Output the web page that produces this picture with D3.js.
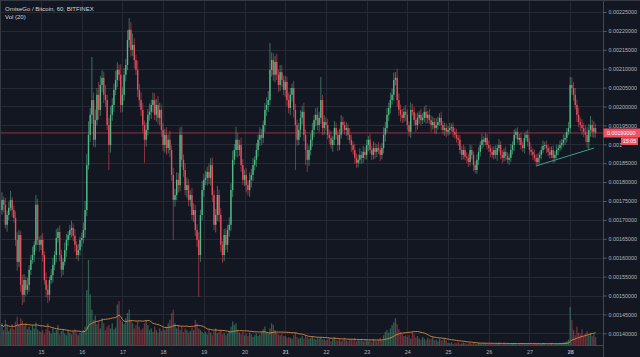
<!DOCTYPE html>
<html><head><meta charset="utf-8">
<script src="https://cdn.jsdelivr.net/npm/d3@7"></script>
<style>html,body{margin:0;padding:0;background:#131722;overflow:hidden}svg{display:block}</style>
</head><body><svg id="c" width="640" height="357"></svg>
<script>
const title = "OmiseGo / Bitcoin, 60, BITFINEX";
const volTitle = "Vol (20)";
const startTime = "2018-01-14T00:00:00Z";
const firstOpen = 1735; // price units: 1e-6 BTC
const closes = [
1726,1753,1740,1687,1713,1732,1753,1726,1705,1647,1589,1660,1528,1502,1541,1515,1528,1568,1594,1607,1634,1740,1647,1634,
1647,1607,1541,1515,1502,1541,1554,1581,1607,1652,1668,1607,1568,1589,1620,1647,1660,1673,1679,1658,1634,1607,1620,1647,
1652,1673,1726,1845,1925,1978,2017,1912,1964,2031,1991,2057,2076,2031,2017,1951,1898,1978,2004,2044,2070,2097,2084,2004,
2031,2084,2110,2176,2203,2150,2163,2123,2097,2044,2017,1991,1951,1912,1938,1978,1986,2004,2017,1978,2004,1970,1991,1938,
1898,1925,1890,1912,1885,1819,1753,1766,1806,1792,1925,1859,1832,1779,1792,1753,1766,1713,1726,1673,1647,1607,1713,1779,
1806,1811,1827,1811,1845,1766,1687,1713,1766,1713,1634,1607,1660,1634,1673,1687,1779,1859,1885,1912,1885,1898,1845,1806,
1819,1792,1779,1806,1819,1845,1859,1885,1912,1925,1917,1951,1991,2004,2017,2097,2123,2084,2118,2084,2057,2091,2070,2044,
2065,2017,1996,2031,2049,1991,1951,1912,1938,1970,1986,1925,1885,1859,1885,1912,1938,1964,1978,1951,1970,2017,1943,1959,
1951,1925,1917,1898,1912,1943,1925,1898,1925,1959,1951,1938,1943,1925,1912,1898,1885,1864,1851,1859,1872,1864,1880,1872,
1898,1912,1885,1872,1890,1880,1890,1885,1872,1890,1925,1943,1978,1996,2017,2031,2070,2076,2017,1991,1978,1970,1986,1978,
1951,1933,1991,1986,1964,1951,1970,1978,1964,1970,1986,1970,1978,1964,1951,1959,1943,1951,1959,1970,1951,1938,1943,1933,
1938,1943,1946,1933,1925,1917,1912,1885,1872,1885,1867,1864,1853,1885,1872,1845,1832,1859,1880,1898,1912,1906,1917,1898,
1890,1880,1872,1885,1872,1890,1898,1872,1864,1880,1869,1859,1864,1885,1898,1925,1933,1912,1917,1898,1890,1917,1925,1906,
1885,1880,1872,1864,1853,1864,1872,1885,1896,1898,1890,1880,1872,1885,1864,1872,1885,1890,1898,1904,1912,1917,1933,1943,
2057,2049,2031,2004,1978,1959,1951,1943,1933,1925,1906,1938,1951,1933,1943,1930];
const wickHi = [
14,20,9,18,11,16,24,8,12,18,20,14,10,26,16,9,19,12,14,22,10,26,16,9,
12,18,10,20,14,9,16,19,10,24,12,18,14,9,20,16,10,14,19,12,18,10,16,9,
14,20,24,30,36,18,114,20,28,18,34,24,20,16,26,14,19,22,18,16,24,20,14,28,
20,18,16,26,31,20,30,18,14,24,16,20,18,12,19,16,22,14,20,18,16,24,19,14,
18,16,20,14,24,12,19,16,20,18,20,22,14,18,20,16,12,19,18,14,16,20,14,24,
16,19,14,22,18,20,12,16,24,14,18,10,16,19,14,20,18,24,16,34,18,14,20,16,
14,18,12,20,16,19,10,18,14,20,16,12,18,20,24,71,20,18,16,22,14,19,18,12,
16,14,20,18,12,19,16,14,18,20,16,24,14,18,12,16,19,14,18,20,16,61,14,18,
12,16,14,18,10,19,14,12,16,18,14,10,16,12,18,14,10,16,12,14,18,10,16,12,
14,10,16,12,18,14,10,16,12,14,20,16,18,14,19,16,20,15,24,18,14,16,12,18,
14,10,20,16,12,18,14,10,16,12,14,18,10,16,12,14,10,18,14,12,16,10,14,12,
10,14,9,12,10,16,9,12,10,14,9,12,10,14,12,9,10,14,12,10,16,9,12,10,
12,9,14,10,12,9,16,10,12,9,14,10,12,16,10,14,9,12,10,14,9,12,10,14,
10,12,9,14,10,12,9,10,14,9,12,10,14,9,12,10,14,9,12,10,14,12,10,16,
21,20,16,18,14,19,12,16,14,18,20,16,24,14,18,12];
const wickLo = [
16,12,20,10,18,14,9,19,12,16,24,14,18,27,20,16,12,18,14,10,19,16,14,18,
14,18,12,20,22,16,10,19,14,18,12,16,20,14,10,18,16,12,19,14,18,10,16,14,
18,14,20,16,12,19,24,18,20,14,26,16,19,22,18,14,66,20,16,18,14,19,16,20,
19,16,18,14,20,18,16,22,14,19,18,16,20,61,18,14,16,19,20,14,18,16,20,18,
16,20,18,14,19,16,106,18,14,20,16,19,18,14,20,16,18,14,19,16,20,111,18,14,
18,14,20,16,19,18,14,20,16,18,19,21,16,14,20,18,16,19,14,18,20,16,18,14,
16,19,14,18,20,16,14,19,18,16,20,14,18,16,19,14,18,16,20,14,19,16,18,14,
18,16,14,19,18,20,119,16,14,19,18,16,40,32,16,14,18,19,16,14,18,16,19,18,
14,12,16,10,18,14,12,16,14,10,18,12,16,14,10,18,12,16,14,12,10,16,14,12,
12,16,10,14,12,18,14,10,16,12,14,18,12,16,14,12,16,14,18,16,18,14,12,16,
14,12,16,10,14,18,12,16,14,10,12,16,14,10,18,12,14,16,12,10,14,12,16,14,
10,12,9,14,10,12,16,10,14,12,9,14,13,10,12,16,9,10,14,12,10,14,9,12,
10,14,9,12,10,16,9,12,14,10,12,9,14,10,12,16,10,9,14,12,10,14,9,12,
12,10,14,9,12,10,14,12,9,10,14,12,10,9,14,12,10,14,9,12,10,14,12,9,
14,18,16,12,19,14,16,18,14,20,16,21,18,14,16,12];
const volumes = [
220,260,180,300,230,170,200,250,190,280,340,240,320,290,230,260,190,220,180,240,200,270,190,170,
160,180,130,190,260,170,140,200,150,180,240,130,170,190,140,120,180,150,130,170,190,140,120,150,
150,180,220,650,1000,600,420,300,350,250,280,200,320,260,180,220,240,200,260,190,210,480,520,300,
280,250,320,380,420,300,260,200,240,280,220,180,200,260,300,240,180,200,160,220,180,150,200,170,
200,180,220,260,300,380,420,260,200,240,180,220,160,200,180,150,170,210,180,300,260,200,180,160,
140,160,130,180,150,120,170,200,140,160,180,130,150,120,140,170,220,280,240,260,180,150,130,160,
120,140,110,150,130,100,120,140,110,130,160,190,220,150,140,200,260,240,180,150,130,120,140,110,
110,90,100,90,80,120,150,100,80,90,110,80,120,100,80,90,110,80,70,90,80,100,70,80,
60,70,90,50,80,100,70,60,80,50,70,90,60,50,70,80,60,90,50,70,60,80,50,70,
60,50,70,40,80,60,50,70,90,60,120,160,180,150,200,240,270,320,250,190,160,130,110,120,
100,120,80,160,130,90,110,80,70,100,80,60,90,70,80,100,60,70,50,80,60,70,80,60,
30,25,40,20,30,25,45,20,25,35,30,20,25,30,20,35,25,20,30,25,20,30,25,20,
25,20,30,15,25,20,35,25,15,30,20,25,15,20,25,30,20,15,25,20,30,15,20,25,
20,25,15,30,20,25,15,20,30,25,15,20,25,30,20,15,25,20,30,25,35,40,50,70,
450,300,180,120,220,150,130,190,110,140,170,120,150,110,130,100];
const priceTicks = [0.0014,0.00145,0.0015,0.00155,0.0016,0.00165,0.0017,0.00175,0.0018,0.00185,0.0019,0.00195,0.002,0.00205,0.0021,0.00215,0.0022,0.00225];
const dayLabels = ["15","16","17","18","19","20","21","22","23","24","25","26","27","28"];
const boldDays = ["21","28"];
const lastPrice = 0.00193;
const countdown = "15:05";
const trendLine = [{t:"2018-01-27T04:00:00Z", p:0.001843},{t:"2018-01-28T14:00:00Z", p:0.001890}];
const maLength = 20;

const UP = "#53b987", DOWN = "#eb4d5c";
const W = 640, H = 357, PR = 603.5, PB = 345.5;
const FONT = "Liberation Sans, Arial, sans-serif";
const svg = d3.select("#c");
svg.append("rect").attr("width", W).attr("height", H).attr("fill", "#131722");

const t0 = new Date(startTime);
const HOUR = 3600e3;
const data = closes.map((c, i) => {
  const o = i === 0 ? firstOpen : closes[i - 1];
  return {t: new Date(+t0 + i * HOUR), o: o / 1e6, c: c / 1e6,
    h: (Math.max(o, c) + wickHi[i]) / 1e6, l: (Math.min(o, c) - wickLo[i]) / 1e6, v: volumes[i]};
});
const x = d3.scaleUtc().domain([t0, data[data.length - 1].t]).range([0.3, 595.6]);
const y = d3.scaleLinear().domain([0.0014, 0.00225]).range([333.3, 12]);
const vy = d3.scaleLinear().domain([0, d3.max(volumes)]).range([PB, 260]);

// grid
const grid = svg.append("g");
grid.selectAll("line.h").data(priceTicks).join("line")
  .attr("x1", 0).attr("x2", PR).attr("y1", d => Math.round(y(d)) + 0.5).attr("y2", d => Math.round(y(d)) + 0.5)
  .attr("stroke", "#262a35").attr("stroke-width", 1);
const dayDates = dayLabels.map(d => new Date(Date.UTC(2018, 0, +d)));
grid.selectAll("line.v").data(dayDates).join("line")
  .attr("x1", d => Math.round(x(d)) + 0.5).attr("x2", d => Math.round(x(d)) + 0.5).attr("y1", 0).attr("y2", PB)
  .attr("stroke", "#262a35").attr("stroke-width", 1);

const plot = svg.append("g");
plot.append("clipPath").attr("id", "clip").append("rect").attr("x", 0).attr("y", 0).attr("width", PR).attr("height", PB);
const pg = plot.append("g").attr("clip-path", "url(#clip)");

// volume
const bw = 1.3;
pg.append("g").selectAll("rect").data(data).join("rect")
  .attr("x", d => x(d.t) - bw / 2).attr("width", bw)
  .attr("y", d => vy(d.v)).attr("height", d => PB - vy(d.v))
  .attr("fill", d => d.c >= d.o ? UP : DOWN).attr("opacity", 0.45);
// volume MA
const ma = data.map((d, i) => {
  const s = volumes.slice(Math.max(0, i - maLength + 1), i + 1);
  return {t: d.t, v: d3.mean(s)};
});
pg.append("path").datum(ma)
  .attr("d", d3.line().x(d => x(d.t)).y(d => vy(d.v)).curve(d3.curveLinear))
  .attr("fill", "none").attr("stroke", "#e08a3c").attr("stroke-width", 1).attr("opacity", 0.9);

// last price line
pg.append("line").attr("x1", 0).attr("x2", PR).attr("y1", y(lastPrice)).attr("y2", y(lastPrice))
  .attr("stroke", "#a8384a").attr("stroke-width", 1).attr("opacity", 0.85);

// candles
const cg = pg.append("g");
cg.selectAll("line").data(data).join("line")
  .attr("x1", d => x(d.t)).attr("x2", d => x(d.t)).attr("y1", d => y(d.h)).attr("y2", d => y(d.l))
  .attr("stroke", d => d.c >= d.o ? UP : DOWN).attr("stroke-width", 0.8).attr("opacity", 0.7);
cg.selectAll("rect").data(data).join("rect")
  .attr("x", d => x(d.t) - 0.7).attr("width", 1.4)
  .attr("y", d => y(Math.max(d.o, d.c))).attr("height", d => Math.max(0.8, Math.abs(y(d.o) - y(d.c))))
  .attr("fill", d => d.c >= d.o ? UP : DOWN);

// trend line
pg.append("line")
  .attr("x1", x(new Date(trendLine[0].t))).attr("y1", y(trendLine[0].p))
  .attr("x2", x(new Date(trendLine[1].t))).attr("y2", y(trendLine[1].p))
  .attr("stroke", "#3f9e8a").attr("stroke-width", 1);

// borders
svg.append("line").attr("x1", PR).attr("x2", PR).attr("y1", 0).attr("y2", H).attr("stroke", "#434651");
svg.append("line").attr("x1", 0).attr("x2", PR).attr("y1", PB).attr("y2", PB).attr("stroke", "#434651");
svg.append("line").attr("x1", 0).attr("x2", W).attr("y1", 0.5).attr("y2", 0.5).attr("stroke", "#363a45");
svg.append("line").attr("x1", 0.5).attr("x2", 0.5).attr("y1", 0).attr("y2", PB).attr("stroke", "#363a45");

// right axis
svg.append("clipPath").attr("id", "axclip").append("rect").attr("x", 0).attr("y", 0).attr("width", 620.5).attr("height", H);
const ya = svg.append("g").attr("transform", `translate(${PR},0)`)
  .call(d3.axisRight(y).tickValues(priceTicks).tickFormat(d => d.toFixed(8)).tickSize(3).tickPadding(2));
ya.select(".domain").remove();
ya.selectAll("line").attr("stroke", "#5d606b");
ya.selectAll("text").attr("fill", "#b2b5be").attr("font-size", "5.4px").attr("font-family", FONT);
ya.selectAll(".tick").filter(d => Math.abs(d - 0.0019) < 1e-9).select("text")
  .attr("textLength", null).attr("clip-path", null).text(d => d.toFixed(8).slice(0, 5));

// bottom axis
const xa = svg.append("g").attr("transform", `translate(0,${PB})`)
  .call(d3.axisBottom(x).tickValues(dayDates).tickFormat((d, i) => dayLabels[i]).tickSize(0).tickPadding(5));
xa.select(".domain").remove();
xa.selectAll("text").attr("fill", "#b2b5be").attr("font-size", "5.4px").attr("font-family", FONT)
  .attr("font-weight", (d, i) => boldDays.includes(dayLabels[i]) ? "bold" : "normal");

// last price label
const ly = y(lastPrice);
svg.append("rect").attr("x", PR).attr("y", ly - 4.5).attr("width", W - PR).attr("height", 9).attr("fill", "#ef5363");
svg.append("text").attr("x", 607).attr("y", ly + 2).text(lastPrice.toFixed(8))
  .attr("fill", "#ffffff").attr("font-size", "5.4px").attr("font-family", FONT);
svg.append("rect").attr("x", 621).attr("y", ly + 4.5).attr("width", 17).attr("height", 7.5).attr("fill", "#ef5363");
svg.append("text").attr("x", 629.5).attr("y", ly + 10.3).attr("text-anchor", "middle").text(countdown)
  .attr("fill", "#ffffff").attr("font-size", "5.4px").attr("font-family", FONT);

// titles
svg.append("text").attr("x", 5).attr("y", 11).text(title)
  .attr("fill", "#d1d4dc").attr("font-size", "6px").attr("font-family", FONT);
svg.append("text").attr("x", 5).attr("y", 19).text(volTitle)
  .attr("fill", "#d1d4dc").attr("font-size", "6px").attr("font-family", FONT);
</script></body></html>
